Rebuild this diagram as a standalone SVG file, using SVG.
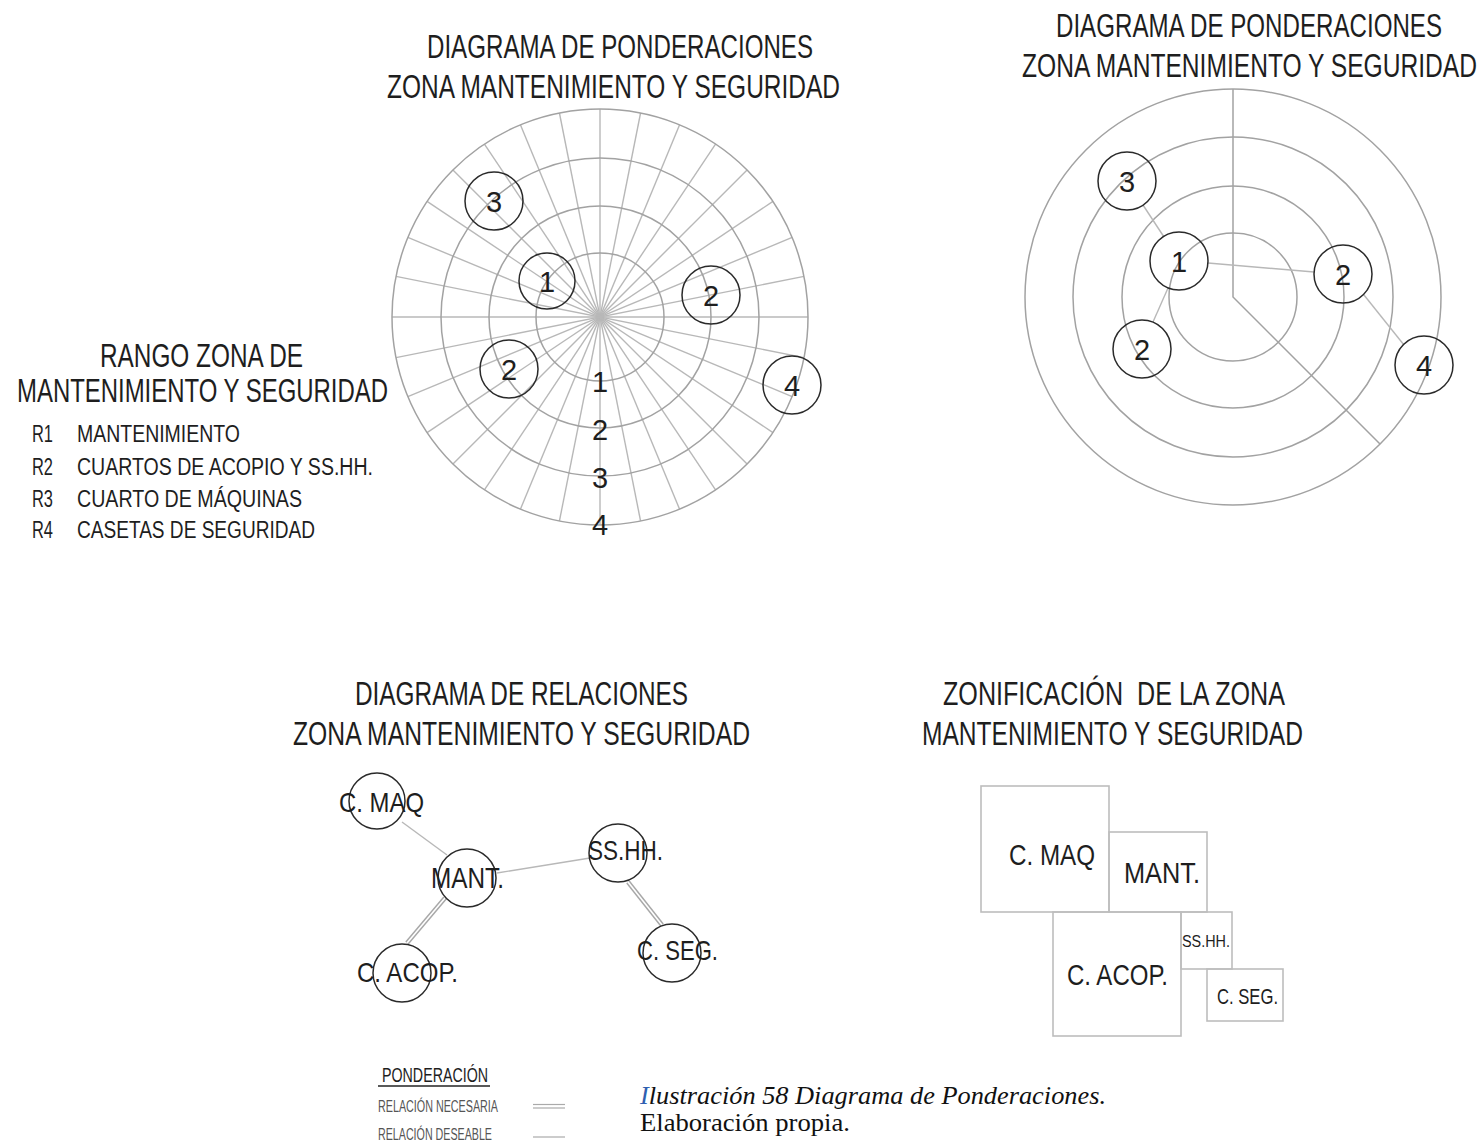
<svg xmlns="http://www.w3.org/2000/svg" width="1484" height="1143" viewBox="0 0 1484 1143">
<style>
.t{font-family:"Liberation Sans Narrow","Liberation Sans",Arial,sans-serif;fill:#1e1e1e}
.ttl{font-size:34px}
.leg{font-size:23px}
.dig{font-size:29px;text-anchor:middle}
.grid{stroke:#b8b8b8;stroke-width:1.4;fill:none}
.ring{stroke:#a2a2a2;stroke-width:1.5;fill:none}
.node{stroke:#2a2a2a;stroke-width:1.5;fill:none}
.link{stroke:#b8b8b8;stroke-width:1.4;fill:none}
.dbl{stroke:#a8a8a8;stroke-width:4.5;fill:none}
.dblin{stroke:#fff;stroke-width:1.6;fill:none}
.box{stroke:#bdbdbd;stroke-width:1.6;fill:none}
.cap{font-family:"Liberation Serif","Times New Roman",serif;font-size:25px;fill:#111}
.small{font-size:16px;fill:#555}
</style>

<!-- Top-left: weighting diagram with radial grid -->
<g id="titulo-ponderaciones-1">
<text class="t ttl" x="427" y="58" textLength="386" lengthAdjust="spacingAndGlyphs">DIAGRAMA DE PONDERACIONES</text>
<text class="t ttl" x="387" y="98" textLength="453" lengthAdjust="spacingAndGlyphs">ZONA MANTENIMIENTO Y SEGURIDAD</text>
</g>
<g id="grid-radial">
<g class="grid">
<line x1="392" y1="317" x2="808" y2="317"/>
<line x1="392" y1="317" x2="808" y2="317" transform="rotate(11.25 600 317)"/>
<line x1="392" y1="317" x2="808" y2="317" transform="rotate(22.5 600 317)"/>
<line x1="392" y1="317" x2="808" y2="317" transform="rotate(33.75 600 317)"/>
<line x1="392" y1="317" x2="808" y2="317" transform="rotate(45 600 317)"/>
<line x1="392" y1="317" x2="808" y2="317" transform="rotate(56.25 600 317)"/>
<line x1="392" y1="317" x2="808" y2="317" transform="rotate(67.5 600 317)"/>
<line x1="392" y1="317" x2="808" y2="317" transform="rotate(78.75 600 317)"/>
<line x1="392" y1="317" x2="808" y2="317" transform="rotate(90 600 317)"/>
<line x1="392" y1="317" x2="808" y2="317" transform="rotate(101.25 600 317)"/>
<line x1="392" y1="317" x2="808" y2="317" transform="rotate(112.5 600 317)"/>
<line x1="392" y1="317" x2="808" y2="317" transform="rotate(123.75 600 317)"/>
<line x1="392" y1="317" x2="808" y2="317" transform="rotate(135 600 317)"/>
<line x1="392" y1="317" x2="808" y2="317" transform="rotate(146.25 600 317)"/>
<line x1="392" y1="317" x2="808" y2="317" transform="rotate(157.5 600 317)"/>
<line x1="392" y1="317" x2="808" y2="317" transform="rotate(168.75 600 317)"/>
</g>
<g class="ring">
<circle cx="600" cy="317" r="64"/>
<circle cx="600" cy="317" r="111"/>
<circle cx="600" cy="317" r="159"/>
<circle cx="600" cy="317" r="208"/>
</g>
<text class="t dig" x="600" y="392" font-size="28">1</text>
<text class="t dig" x="600" y="440" font-size="28">2</text>
<text class="t dig" x="600" y="488" font-size="28">3</text>
<text class="t dig" x="600" y="535" font-size="28">4</text>
</g>
<g id="p1-n3"><circle class="node" cx="494" cy="201" r="29"/><text class="t dig" x="494" y="212">3</text></g>
<g id="p1-n1"><circle class="node" cx="547" cy="281" r="28"/><text class="t dig" x="547" y="292">1</text></g>
<g id="p1-n2a"><circle class="node" cx="711" cy="295" r="29"/><text class="t dig" x="711" y="306">2</text></g>
<g id="p1-n2b"><circle class="node" cx="509" cy="369" r="29"/><text class="t dig" x="509" y="380">2</text></g>
<g id="p1-n4"><circle class="node" cx="792" cy="385" r="29"/><text class="t dig" x="792" y="396">4</text></g>

<!-- Left legend -->
<g id="leyenda-rango">
<text class="t" font-size="33" x="100" y="367" textLength="203" lengthAdjust="spacingAndGlyphs">RANGO ZONA DE</text>
<text class="t" font-size="33" x="17" y="402" textLength="371" lengthAdjust="spacingAndGlyphs">MANTENIMIENTO Y SEGURIDAD</text>
<text class="t leg" x="32" y="442" textLength="21" lengthAdjust="spacingAndGlyphs">R1</text>
<text class="t leg" x="77" y="442" textLength="163" lengthAdjust="spacingAndGlyphs">MANTENIMIENTO</text>
<text class="t leg" x="32" y="475" textLength="21" lengthAdjust="spacingAndGlyphs">R2</text>
<text class="t leg" x="77" y="475" textLength="296" lengthAdjust="spacingAndGlyphs">CUARTOS DE ACOPIO Y SS.HH.</text>
<text class="t leg" x="32" y="507" textLength="21" lengthAdjust="spacingAndGlyphs">R3</text>
<text class="t leg" x="77" y="507" textLength="225" lengthAdjust="spacingAndGlyphs">CUARTO DE MÁQUINAS</text>
<text class="t leg" x="32" y="538" textLength="21" lengthAdjust="spacingAndGlyphs">R4</text>
<text class="t leg" x="77" y="538" textLength="238" lengthAdjust="spacingAndGlyphs">CASETAS DE SEGURIDAD</text>
</g>

<!-- Top-right: weighting diagram with rings -->
<g id="titulo-ponderaciones-2">
<text class="t ttl" x="1442" y="37" text-anchor="end" textLength="386" lengthAdjust="spacingAndGlyphs">DIAGRAMA DE PONDERACIONES</text>
<text class="t ttl" x="1477" y="77" text-anchor="end" textLength="455" lengthAdjust="spacingAndGlyphs">ZONA MANTENIMIENTO Y SEGURIDAD</text>
</g>
<g id="anillos">
<g class="ring">
<circle cx="1233" cy="297" r="64"/>
<circle cx="1233" cy="297" r="111"/>
<circle cx="1233" cy="297" r="160"/>
<circle cx="1233" cy="297" r="208"/>
</g>
<polyline class="ring" points="1233,89 1233,297 1380,444"/>
</g>
<g id="conectores-ponderacion">
<line class="link" x1="1143" y1="205" x2="1164" y2="237"/>
<line class="link" x1="1208" y1="263" x2="1314" y2="272"/>
<line class="link" x1="1168" y1="288" x2="1153" y2="322"/>
<line class="link" x1="1364" y1="295" x2="1404" y2="345"/>
</g>
<g id="p2-n3"><circle class="node" cx="1127" cy="181" r="29"/><text class="t dig" x="1127" y="192">3</text></g>
<g id="p2-n1"><circle class="node" cx="1179" cy="261" r="29"/><text class="t dig" x="1179" y="272">1</text></g>
<g id="p2-n2a"><circle class="node" cx="1343" cy="274" r="29"/><text class="t dig" x="1343" y="285">2</text></g>
<g id="p2-n2b"><circle class="node" cx="1142" cy="349" r="29"/><text class="t dig" x="1142" y="360">2</text></g>
<g id="p2-n4"><circle class="node" cx="1424" cy="365" r="29"/><text class="t dig" x="1424" y="376">4</text></g>

<!-- Bottom-left: relations diagram -->
<g id="titulo-relaciones">
<text class="t ttl" x="355" y="705" textLength="333" lengthAdjust="spacingAndGlyphs">DIAGRAMA DE RELACIONES</text>
<text class="t ttl" x="293" y="745" textLength="457" lengthAdjust="spacingAndGlyphs">ZONA MANTENIMIENTO Y SEGURIDAD</text>
</g>
<g id="conectores-relaciones">
<line class="link" x1="402" y1="822" x2="447" y2="855"/>
<line class="link" x1="497" y1="873" x2="590" y2="858"/>
<line class="dbl" x1="445" y1="898" x2="407" y2="943"/>
<line class="dblin" x1="445" y1="898" x2="407" y2="943"/>
<line class="dbl" x1="628" y1="882" x2="662" y2="925"/>
<line class="dblin" x1="628" y1="882" x2="662" y2="925"/>
</g>
<g id="r-cmaq"><circle class="node" cx="377" cy="801" r="28"/><text class="t" font-size="28" x="339" y="812" textLength="85" lengthAdjust="spacingAndGlyphs">C. MAQ</text></g>
<g id="r-mant"><circle class="node" cx="467" cy="878" r="29"/><text class="t" font-size="29" x="431" y="888" textLength="73" lengthAdjust="spacingAndGlyphs">MANT.</text></g>
<g id="r-sshh"><circle class="node" cx="618" cy="853" r="29"/><text class="t" font-size="28" x="588" y="860" textLength="75" lengthAdjust="spacingAndGlyphs">SS.HH.</text></g>
<g id="r-cseg"><circle class="node" cx="672" cy="953" r="29"/><text class="t" font-size="28" x="637" y="960" textLength="81" lengthAdjust="spacingAndGlyphs">C. SEG.</text></g>
<g id="r-cacop"><circle class="node" cx="402" cy="973" r="29"/><text class="t" font-size="28" x="357" y="982" textLength="101" lengthAdjust="spacingAndGlyphs">C. ACOP.</text></g>

<!-- Bottom-right: zoning -->
<g id="titulo-zonificacion">
<text class="t ttl" x="943" y="705" textLength="342" lengthAdjust="spacingAndGlyphs" xml:space="preserve">ZONIFICACIÓN  DE LA ZONA</text>
<text class="t ttl" x="922" y="745" textLength="381" lengthAdjust="spacingAndGlyphs">MANTENIMIENTO Y SEGURIDAD</text>
</g>
<g id="z-cmaq"><rect class="box" x="981" y="786" width="128" height="126"/><text class="t" font-size="30" x="1009" y="865" textLength="86" lengthAdjust="spacingAndGlyphs">C. MAQ</text></g>
<g id="z-mant"><rect class="box" x="1109" y="832" width="98" height="80"/><text class="t" font-size="30" x="1124" y="883" textLength="76" lengthAdjust="spacingAndGlyphs">MANT.</text></g>
<g id="z-cacop"><rect class="box" x="1053" y="912" width="128" height="124"/><text class="t" font-size="30" x="1067" y="985" textLength="101" lengthAdjust="spacingAndGlyphs">C. ACOP.</text></g>
<g id="z-sshh"><rect class="box" x="1181" y="912" width="51" height="57"/><text class="t" font-size="16" x="1182" y="947" textLength="48" lengthAdjust="spacingAndGlyphs">SS.HH.</text></g>
<g id="z-cseg"><rect class="box" x="1207" y="969" width="76" height="52"/><text class="t" font-size="22" x="1217" y="1004" textLength="61" lengthAdjust="spacingAndGlyphs">C. SEG.</text></g>

<!-- Bottom legend -->
<g id="leyenda-ponderacion">
<text class="t" font-size="21" x="382" y="1082" textLength="106" lengthAdjust="spacingAndGlyphs">PONDERACIÓN</text>
<line x1="378" y1="1086" x2="490" y2="1086" stroke="#222" stroke-width="1.5"/>
<text class="t small" x="378" y="1112" textLength="120" lengthAdjust="spacingAndGlyphs">RELACIÓN NECESARIA</text>
<text class="t small" x="378" y="1140" textLength="114" lengthAdjust="spacingAndGlyphs">RELACIÓN DESEABLE</text>
<line x1="533" y1="1104.5" x2="565" y2="1104.5" stroke="#aaa" stroke-width="1.2"/>
<line x1="533" y1="1108" x2="565" y2="1108" stroke="#aaa" stroke-width="1.2"/>
<line x1="533" y1="1137" x2="565" y2="1137" stroke="#aaa" stroke-width="1.2"/>
</g>

<!-- Caption -->
<g id="leyenda-figura">
<text class="cap" x="640" y="1104" font-style="italic" textLength="466" lengthAdjust="spacingAndGlyphs"><tspan fill="#2f5fb0">I</tspan>lustración 58 Diagrama de Ponderaciones.</text>
<text class="cap" x="640" y="1131" textLength="210" lengthAdjust="spacingAndGlyphs">Elaboración propia.</text>
</g>
</svg>
